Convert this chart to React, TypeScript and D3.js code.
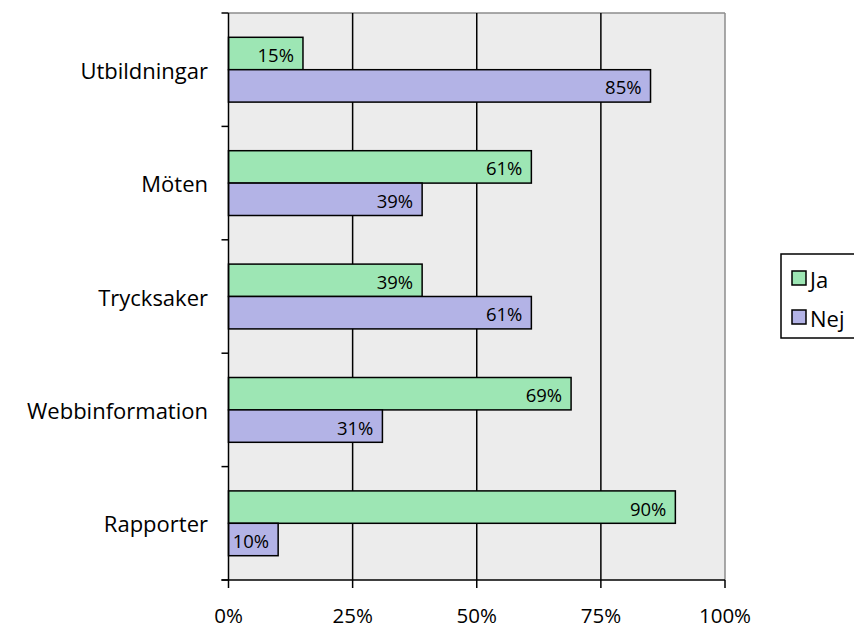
import React from "react";
import * as d3 from "d3";

const categories = ["Utbildningar", "Möten", "Trycksaker", "Webbinformation", "Rapporter"];
const seriesNames = ["Ja", "Nej"];
const jaValues = [15, 61, 39, 69, 90];
const nejValues = [85, 39, 61, 31, 10];
const xTicks = [0, 25, 50, 75, 100];
const colors = ["#9de6b4", "#b3b3e6"];

const W = 854, H = 630;
const left = 228.5, right = 725, top = 13, bottom = 580;
const FONT = "'Open Sans', 'Lato', sans-serif";

export default function App() {
  const x = d3.scaleLinear().domain([0, 100]).range([left, right]);
  const y = d3.scaleBand<string>().domain(categories).range([top, bottom]).paddingInner(0).paddingOuter(0);
  const band = y.bandwidth();
  const barH = band / 3.5;
  const off = (band - 2 * barH) / 2;
  const series = [jaValues, nejValues];
  const boundaries = d3.range(categories.length + 1).map((i) => top + i * band);

  return (
    <svg width={W} height={H} style={{ position: "absolute", left: 0, top: 0, background: "#fff" }} fontFamily={FONT}>
      <rect x={left} y={top} width={right - left} height={bottom - top} fill="#ececec" />
      <line x1={left} x2={right} y1={top} y2={top} stroke="#8c8c8c" strokeWidth={1.5} />
      <line x1={right} x2={right} y1={top} y2={bottom} stroke="#8c8c8c" strokeWidth={1.5} />
      {xTicks.slice(1, -1).map((t) => (
        <line key={t} x1={x(t)} x2={x(t)} y1={top} y2={bottom} stroke="#000" strokeWidth={1.5} />
      ))}
      {categories.map((c, i) =>
        series.map((vals, s) => {
          const by = (y(c) as number) + off + s * barH;
          const bw = x(vals[i]) - x(0);
          return (
            <g key={c + s}>
              <rect x={x(0)} y={by} width={bw} height={barH} fill={colors[s]} stroke="#000" strokeWidth={1.5} />
              <text x={x(vals[i]) - 9} y={by + barH / 2 + 1} textAnchor="end" dominantBaseline="central" fontSize={18.5} fill="#000">
                {vals[i]}%
              </text>
            </g>
          );
        })
      )}
      <line x1={left} x2={left} y1={top} y2={bottom} stroke="#000" strokeWidth={1.5} />
      <line x1={left - 7} x2={right} y1={bottom} y2={bottom} stroke="#000" strokeWidth={1.5} />
      {boundaries.map((b, i) => (
        <line key={i} x1={left - 7} x2={left} y1={b} y2={b} stroke="#000" strokeWidth={1.5} />
      ))}
      {xTicks.map((t) => (
        <g key={t}>
          <line x1={x(t)} x2={x(t)} y1={bottom} y2={bottom + 8} stroke="#000" strokeWidth={1.5} />
          <text x={x(t)} y={614.5} textAnchor="middle" dominantBaseline="central" fontSize={20.5} fill="#000">
            {t}%
          </text>
        </g>
      ))}
      {categories.map((c) => (
        <text key={c} x={208} y={(y(c) as number) + band / 2} textAnchor="end" dominantBaseline="central" fontSize={22} fill="#000">
          {c}
        </text>
      ))}
      <rect x={781} y={254} width={80} height={84} fill="#fff" stroke="#000" strokeWidth={1.5} />
      {seriesNames.map((n, i) => (
        <g key={n}>
          <rect x={792} y={271 + i * 39} width={14} height={14} fill={colors[i]} stroke="#000" strokeWidth={1.5} />
          <text x={810} y={279 + i * 39} dominantBaseline="central" fontSize={22} fill="#000">
            {n}
          </text>
        </g>
      ))}
    </svg>
  );
}
